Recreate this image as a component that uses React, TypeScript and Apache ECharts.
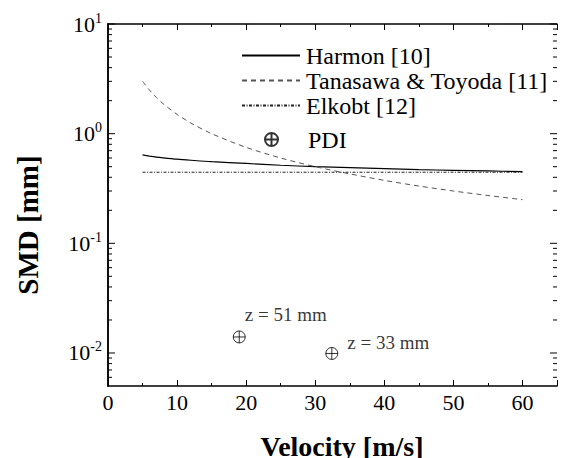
import React, { useEffect, useRef } from "react";
import * as echarts from "echarts";

const FONT = "'Liberation Serif', 'Times New Roman', serif";

const velocity = [5, 6, 7, 8, 10, 12, 15, 20, 25, 30, 35, 40, 45, 50, 55, 60];
const harmon = [0.64, 0.625, 0.612, 0.602, 0.585, 0.572, 0.555, 0.535, 0.515, 0.5, 0.49, 0.48, 0.47, 0.463, 0.457, 0.45];
const tanasawa = [3.0, 2.5, 2.14, 1.87, 1.5, 1.25, 1.0, 0.75, 0.6, 0.5, 0.43, 0.375, 0.333, 0.3, 0.273, 0.25];
const elkobt = [0.445, 0.445, 0.445, 0.445, 0.445, 0.445, 0.445, 0.445, 0.445, 0.445, 0.445, 0.445, 0.445, 0.445, 0.445, 0.445];

const pdiVelocity = [19, 32.4];
const pdiSmd = [0.014, 0.0099];
const pdiLabels = ["z = 51 mm", "z = 33 mm"];

const X_MIN = 0;
const X_MAX = 65;
const Y_MIN = 0.005;
const Y_MAX = 10;
const yMajorTicks = [0.01, 0.1, 1, 10];
const yMinorTicks = [
  0.006, 0.007, 0.008, 0.009,
  0.02, 0.03, 0.04, 0.05, 0.06, 0.07, 0.08, 0.09,
  0.2, 0.3, 0.4, 0.5, 0.6, 0.7, 0.8, 0.9,
  2, 3, 4, 5, 6, 7, 8, 9,
];

const circlePlus =
  "path://M0,-10 A10,10 0 1,1 0,10 A10,10 0 1,1 0,-10 Z M-10,0 L10,0 M0,-10 L0,10";

export default function App() {
  const ref = useRef<HTMLDivElement>(null);
  useEffect(() => {
    document.body.style.margin = "0";
    if (!ref.current) return;
    const chart = echarts.init(ref.current, null, { renderer: "svg" });

    const tickData = [
      ...yMajorTicks.map((v) => [X_MIN, v, 7]),
      ...yMinorTicks.map((v) => [X_MIN, v, 4]),
    ];

    const xAxisCommon = {
      type: "value",
      min: X_MIN,
      max: X_MAX,
      interval: 10,
      splitLine: { show: false },
      axisLine: { lineStyle: { color: "#000", width: 1.5 } },
      axisTick: { inside: true, length: 6, lineStyle: { color: "#000", width: 1 } },
      minorTick: { show: true, splitNumber: 2, length: 3, lineStyle: { color: "#000", width: 1 } },
    };

    const legendText = {
      fontSize: 24,
      fontFamily: "Liberation Serif",
      fontWeight: "normal",
      color: "#000",
      lineHeight: 25,
    };

    chart.setOption({
      animation: false,
      backgroundColor: "#fff",
      textStyle: { fontFamily: "Liberation Serif" },
      grid: { left: 108, right: 7, top: 24, bottom: 72, containLabel: false },
      xAxis: [
        {
          ...xAxisCommon,
          position: "bottom",
          axisLabel: { fontSize: 22, fontFamily: FONT, color: "#000", margin: 5, showMaxLabel: false },
        },
        {
          ...xAxisCommon,
          position: "top",
          axisLabel: { show: false },
        },
      ],
      yAxis: [
        {
          type: "log",
          logBase: 10,
          min: Y_MIN,
          max: Y_MAX,
          position: "left",
          splitLine: { show: false },
          axisLine: { show: true, lineStyle: { color: "#000", width: 1.5 } },
          axisTick: { show: false },
          axisLabel: {
            showMinLabel: false,
            margin: 6,
            color: "#000",
            formatter: (v: number) => {
              const e = Math.round(Math.log10(v));
              return `{b|10}{s|${e}}`;
            },
            rich: {
              b: { fontSize: 22, fontFamily: FONT, color: "#000" },
              s: { fontSize: 14, fontFamily: FONT, color: "#000", verticalAlign: "top", padding: [0, 0, 12, 0] },
            },
          },
        },
        {
          type: "log",
          logBase: 10,
          min: Y_MIN,
          max: Y_MAX,
          position: "right",
          splitLine: { show: false },
          axisLine: { show: true, lineStyle: { color: "#000", width: 1.5 } },
          axisTick: { show: false },
          axisLabel: { show: false },
        },
      ],
      legend: [
        {
          data: ["Harmon [10]", "Tanasawa & Toyoda [11]", "Elkobt [12]"],
          orient: "vertical",
          left: 241,
          top: 43,
          itemWidth: 58,
          itemHeight: 14,
          itemGap: 0,
          padding: 0,
          itemStyle: { opacity: 0 },
          textStyle: { ...legendText, padding: [0, 0, 0, 1] },
        },
        {
          data: ["PDI"],
          orient: "vertical",
          left: 264,
          top: 127,
          itemWidth: 13,
          itemHeight: 13,
          padding: 0,
          textStyle: { ...legendText, padding: [0, 0, 0, 25] },
        },
      ],
      graphic: [
        {
          type: "text",
          x: 342,
          y: 446,
          style: {
            text: "Velocity [m/s]",
            font: `bold 28px ${FONT}`,
            fill: "#000",
            textAlign: "center",
            textVerticalAlign: "middle",
          },
        },
        {
          type: "text",
          x: 28,
          y: 225,
          rotation: Math.PI / 2,
          style: {
            text: "SMD [mm]",
            font: `bold 29px ${FONT}`,
            fill: "#000",
            textAlign: "center",
            textVerticalAlign: "middle",
          },
        },
      ],
      series: [
        {
          name: "Harmon [10]",
          type: "line",
          symbol: "none",
          smooth: 0.3,
          data: velocity.map((v, i) => [v, harmon[i]]),
          lineStyle: { color: "#000", width: 1.2, type: "solid" },
          itemStyle: { color: "#000" },
        },
        {
          name: "Tanasawa & Toyoda [11]",
          type: "line",
          symbol: "none",
          smooth: 0.3,
          data: velocity.map((v, i) => [v, tanasawa[i]]),
          lineStyle: { color: "#555", width: 1, type: [5, 4] },
          itemStyle: { color: "#555" },
        },
        {
          name: "Elkobt [12]",
          type: "line",
          symbol: "none",
          data: velocity.map((v, i) => [v, elkobt[i]]),
          lineStyle: { color: "#222", width: 1, type: [3, 1.5, 1, 1.5] },
          itemStyle: { color: "#222" },
        },
        {
          name: "PDI",
          type: "scatter",
          symbol: circlePlus,
          symbolSize: 12,
          itemStyle: { color: "rgba(0,0,0,0)", borderColor: "#000", borderWidth: 1 },
          data: pdiVelocity.map((v, i) => ({
            value: [v, pdiSmd[i]],
            label: {
              show: true,
              formatter: pdiLabels[i],
              position: i === 0 ? [12, -16] : [22, -4],
              align: "left",
              verticalAlign: "middle",
              fontSize: 19,
              fontFamily: FONT,
              color: "#000",
            },
          })),
        },
        {
          name: "ticks",
          type: "custom",
          silent: true,
          encode: { x: 0, y: 1 },
          data: tickData,
          renderItem: (params: any, api: any) => {
            const v = api.value(1);
            const len = api.value(2);
            const l = api.coord([X_MIN, v]);
            const r = api.coord([X_MAX, v]);
            return {
              type: "group",
              children: [
                { type: "line", shape: { x1: l[0], y1: l[1], x2: l[0] + len, y2: l[1] }, style: { stroke: "#000", lineWidth: 1 } },
                { type: "line", shape: { x1: r[0], y1: r[1], x2: r[0] - len, y2: r[1] }, style: { stroke: "#000", lineWidth: 1 } },
              ],
            };
          },
        },
      ],
    });
    return () => chart.dispose();
  }, []);
  return <div ref={ref} style={{ width: 564, height: 458 }} />;
}
